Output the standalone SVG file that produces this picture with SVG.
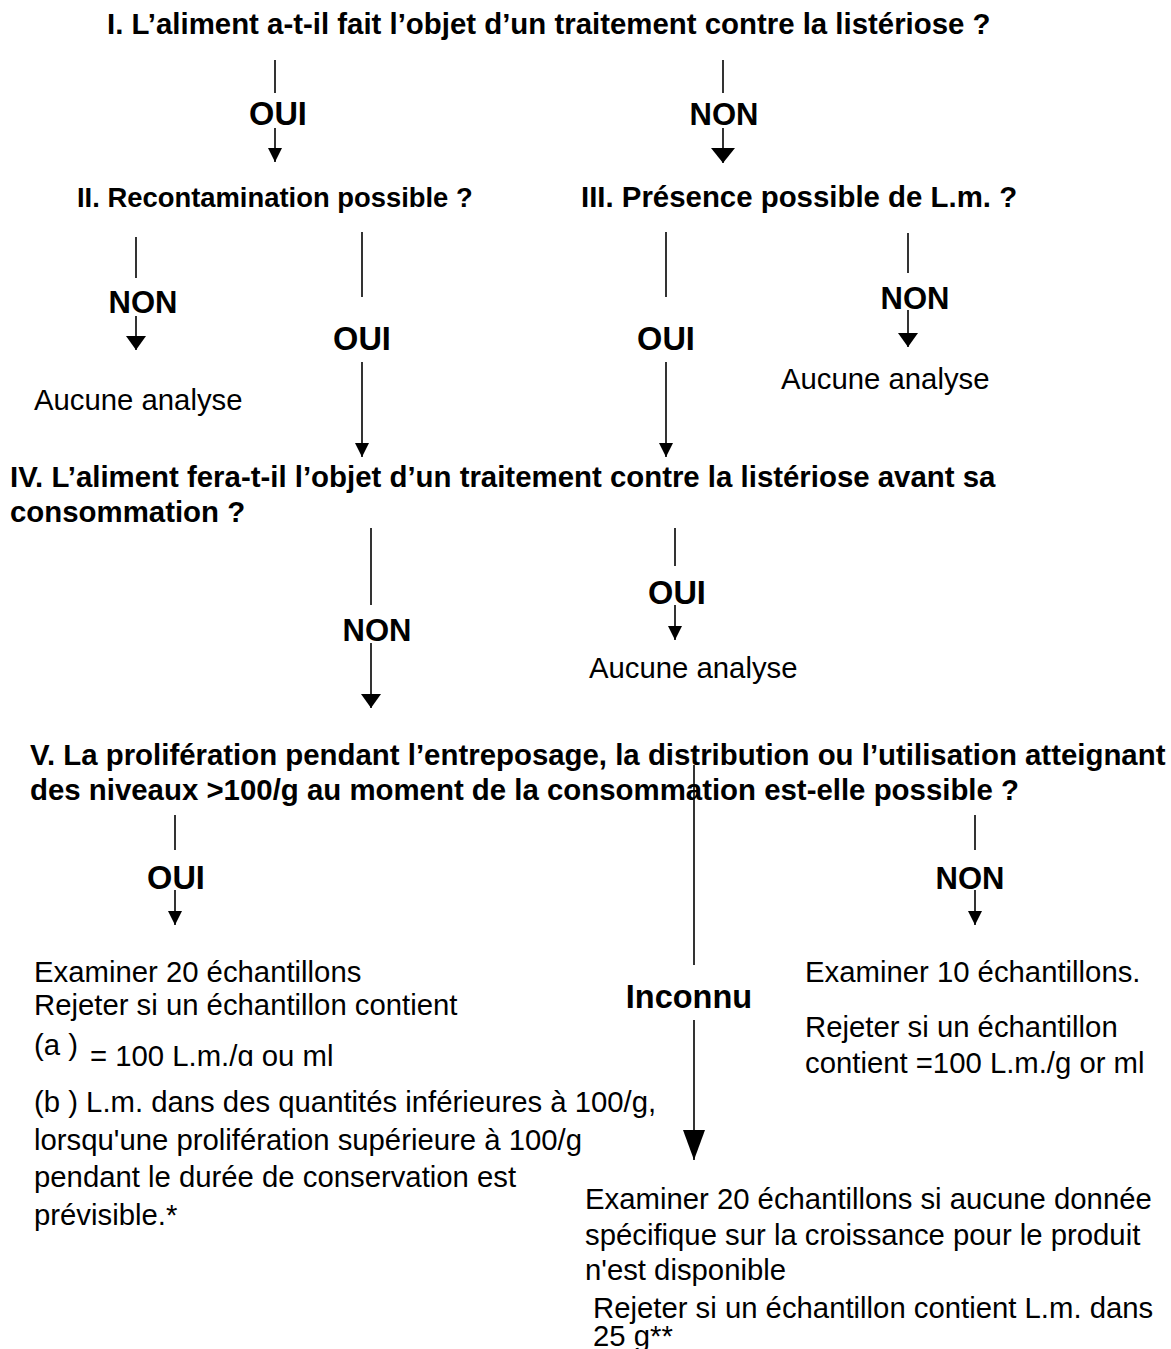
<svg xmlns="http://www.w3.org/2000/svg" width="1171" height="1349" viewBox="0 0 1171 1349">
<style>
.h{font-family:"Liberation Sans",Arial,sans-serif;font-weight:bold;font-size:29.4px;fill:#000}
.lb{font-family:"Liberation Sans",Arial,sans-serif;font-weight:bold;font-size:32.5px;fill:#000;text-anchor:middle}
.lbn{font-family:"Liberation Sans",Arial,sans-serif;font-weight:bold;font-size:31px;fill:#000;text-anchor:middle}
.t{font-family:"Liberation Sans",Arial,sans-serif;font-size:29.3px;fill:#000}
.ln{stroke:#000;stroke-width:1.6;fill:none}
</style>
<defs>
<marker id="as" markerUnits="userSpaceOnUse" markerWidth="14" markerHeight="14" refX="14" refY="7" orient="auto"><path d="M0,0 L14,7 L0,14 z" fill="#000"/></marker>
<marker id="am" markerUnits="userSpaceOnUse" markerWidth="14" markerHeight="20" refX="14" refY="10" orient="auto"><path d="M0,0 L14,10 L0,20 z" fill="#000"/></marker>
<marker id="aw" markerUnits="userSpaceOnUse" markerWidth="15" markerHeight="24" refX="15" refY="12" orient="auto"><path d="M0,0 L15,12 L0,24 z" fill="#000"/></marker>
<marker id="al" markerUnits="userSpaceOnUse" markerWidth="30" markerHeight="22" refX="30" refY="11" orient="auto"><path d="M0,0 L30,11 L0,22 z" fill="#000"/></marker>
<clipPath id="clipA"><rect x="80" y="1030" width="320" height="36"/></clipPath>
</defs>
<rect width="1171" height="1349" fill="#fff"/>
<g id="connectors">
<line class="ln" x1="275" y1="60" x2="275" y2="93"/>
<line class="ln" x1="275" y1="128" x2="275" y2="162" marker-end="url(#as)"/>
<line class="ln" x1="723" y1="60" x2="723" y2="93"/>
<line class="ln" x1="723" y1="128" x2="723" y2="163" marker-end="url(#aw)"/>
<line class="ln" x1="136" y1="237" x2="136" y2="278"/>
<line class="ln" x1="136" y1="316" x2="136" y2="350" marker-end="url(#am)"/>
<line class="ln" x1="362" y1="232" x2="362" y2="297"/>
<line class="ln" x1="362" y1="362" x2="362" y2="457" marker-end="url(#as)"/>
<line class="ln" x1="666" y1="232" x2="666" y2="297"/>
<line class="ln" x1="666" y1="362" x2="666" y2="457" marker-end="url(#as)"/>
<line class="ln" x1="908" y1="233" x2="908" y2="273"/>
<line class="ln" x1="908" y1="310" x2="908" y2="347" marker-end="url(#am)"/>
<line class="ln" x1="371" y1="528" x2="371" y2="605"/>
<line class="ln" x1="371" y1="643" x2="371" y2="708" marker-end="url(#am)"/>
<line class="ln" x1="675" y1="528" x2="675" y2="566"/>
<line class="ln" x1="675" y1="605" x2="675" y2="640" marker-end="url(#as)"/>
<line class="ln" x1="175" y1="815" x2="175" y2="850"/>
<line class="ln" x1="175" y1="890" x2="175" y2="925" marker-end="url(#as)"/>
<line class="ln" x1="694" y1="765" x2="694" y2="965"/>
<line class="ln" x1="694" y1="1020" x2="694" y2="1160" marker-end="url(#al)"/>
<line class="ln" x1="975" y1="815" x2="975" y2="850"/>
<line class="ln" x1="975" y1="890" x2="975" y2="925" marker-end="url(#as)"/>
</g>
<g id="q1"><text class="h" x="107" y="34">I. L’aliment a-t-il fait l’objet d’un traitement contre la listériose ?</text></g>
<g id="l-q1-oui"><text class="lb" x="278" y="125">OUI</text></g>
<g id="l-q1-non"><text class="lbn" x="724" y="125">NON</text></g>
<g id="q2"><text class="h" x="77" y="207" style="font-size:27.4px">II. Recontamination possible ?</text></g>
<g id="q3"><text class="h" x="581" y="207">III. Présence possible de L.m. ?</text></g>
<g id="l-q2-non"><text class="lbn" x="143" y="313">NON</text></g>
<g id="l-q2-oui"><text class="lb" x="362" y="350">OUI</text></g>
<g id="l-q3-oui"><text class="lb" x="666" y="350">OUI</text></g>
<g id="l-q3-non"><text class="lbn" x="915" y="309">NON</text></g>
<g id="r1"><text class="t" x="34" y="410">Aucune analyse</text></g>
<g id="r2"><text class="t" x="781" y="389">Aucune analyse</text></g>
<g id="q4"><text class="h" x="10" y="487">IV. L’aliment fera-t-il l’objet d’un traitement contre la listériose avant sa</text><text class="h" x="10" y="522">consommation ?</text></g>
<g id="l-q4-non"><text class="lbn" x="377" y="641">NON</text></g>
<g id="l-q4-oui"><text class="lb" x="677" y="604">OUI</text></g>
<g id="r3"><text class="t" x="589" y="678">Aucune analyse</text></g>
<g id="q5"><text class="h" x="30" y="765">V. La prolifération pendant l’entreposage, la distribution ou l’utilisation atteignant</text><text class="h" x="30" y="800">des niveaux &gt;100/g au moment de la consommation est-elle possible ?</text></g>
<g id="l-q5-oui"><text class="lb" x="176" y="889">OUI</text></g>
<g id="l-q5-inc"><text class="lb" x="689" y="1008">Inconnu</text></g>
<g id="l-q5-non"><text class="lbn" x="970" y="889">NON</text></g>
<g id="r4">
<text class="t" x="34" y="982">Examiner 20 échantillons</text>
<text class="t" x="34" y="1015">Rejeter si un échantillon contient</text>
<text class="t" x="34" y="1055">(a )</text>
<text class="t" x="90" y="1066" clip-path="url(#clipA)">= 100 L.m./g ou ml</text>
<text class="t" x="34" y="1112">(b ) L.m. dans des quantités inférieures à 100/g,</text>
<text class="t" x="34" y="1150">lorsqu'une prolifération supérieure à 100/g</text>
<text class="t" x="34" y="1187">pendant le durée de conservation est</text>
<text class="t" x="34" y="1225">prévisible.*</text>
</g>
<g id="r5">
<text class="t" x="805" y="982">Examiner 10 échantillons.</text>
<text class="t" x="805" y="1037">Rejeter si un échantillon</text>
<text class="t" x="805" y="1073">contient  =100 L.m./g or ml</text>
</g>
<g id="r6">
<text class="t" x="585" y="1209">Examiner 20 échantillons si aucune donnée</text>
<text class="t" x="585" y="1245">spécifique sur la croissance pour le produit</text>
<text class="t" x="585" y="1280">n'est disponible</text>
<text class="t" x="593" y="1318">Rejeter si un échantillon contient L.m. dans</text>
<text class="t" x="593" y="1346">25 g**</text>
</g>
</svg>
